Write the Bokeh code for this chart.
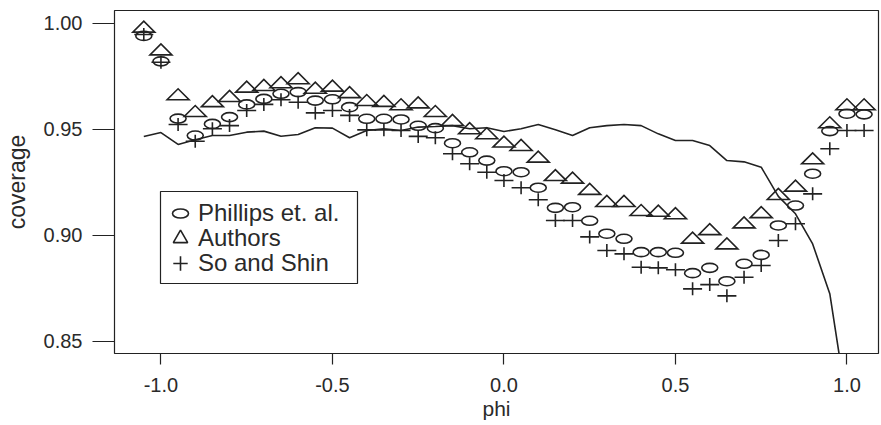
import math
from bokeh.plotting import figure
from bokeh.models import (Range1d, FixedTicker, Legend, LegendItem,
                          PrintfTickFormatter, BoxAnnotation)
from bokeh.embed import file_html
from bokeh.resources import INLINE

# ---------------- data ----------------
phi = [-1.05, -1.00, -0.95, -0.90, -0.85, -0.80, -0.75, -0.70, -0.65, -0.60,
       -0.55, -0.50, -0.45, -0.40, -0.35, -0.30, -0.25, -0.20, -0.15, -0.10,
       -0.05, 0.00, 0.05, 0.10, 0.15, 0.20, 0.25, 0.30, 0.35, 0.40,
       0.45, 0.50, 0.55, 0.60, 0.65, 0.70, 0.75, 0.80, 0.85, 0.90,
       0.95, 1.00, 1.05]

phillips = [0.994, 0.982, 0.955, 0.947, 0.9525, 0.9557, 0.9617, 0.9643, 0.9667, 0.9675,
            0.9635, 0.9641, 0.9604, 0.9549, 0.9549, 0.9546, 0.9516, 0.9505, 0.9434, 0.9391,
            0.9352, 0.9302, 0.9297, 0.9224, 0.9129, 0.9132, 0.9068, 0.9007, 0.8983, 0.8920,
            0.8920, 0.8917, 0.8821, 0.8846, 0.8783, 0.8865, 0.8907, 0.9046, 0.9140, 0.9290,
            0.9491, 0.9573, 0.9570]

authors = [0.9975, 0.9868, 0.9656, 0.9577, 0.9624, 0.9648, 0.9692, 0.9700, 0.9713, 0.9732,
           0.9687, 0.9697, 0.9666, 0.9629, 0.9625, 0.9609, 0.9618, 0.9577, 0.9535, 0.9496,
           0.9472, 0.9433, 0.9417, 0.9362, 0.9275, 0.9263, 0.9210, 0.9153, 0.9153, 0.9110,
           0.9107, 0.9095, 0.8980, 0.9020, 0.8953, 0.9052, 0.9100, 0.9186, 0.9225, 0.9354,
           0.9524, 0.9609, 0.9609]

so_shin = [0.9947, 0.9816, 0.9522, 0.9443, 0.9502, 0.9517, 0.9588, 0.9617, 0.9639, 0.9627,
           0.9577, 0.9588, 0.9565, 0.9497, 0.9497, 0.9494, 0.9466, 0.9460, 0.9384, 0.9337,
           0.9297, 0.9258, 0.9224, 0.9167, 0.9069, 0.9069, 0.8992, 0.8928, 0.8912, 0.8849,
           0.8846, 0.8837, 0.8747, 0.8767, 0.8714, 0.8802, 0.8857, 0.8975, 0.9054, 0.9195,
           0.9408, 0.9494, 0.9494]

# solid line (no legend entry); ends at phi = 1.00
line_cov = [0.9466, 0.9484, 0.9428, 0.9450, 0.9470, 0.9470, 0.9486, 0.9491, 0.9467, 0.9475,
            0.9507, 0.9505, 0.9460, 0.9494, 0.9502, 0.9494, 0.9510, 0.9513, 0.9517, 0.9502,
            0.9507, 0.9489, 0.9502, 0.9522, 0.9497, 0.9470, 0.9507, 0.9517, 0.9522, 0.9517,
            0.9478, 0.9447, 0.9447, 0.9423, 0.9352, 0.9346, 0.9321, 0.9183, 0.9101, 0.8959,
            0.8724, 0.8200]

series_labels = ["Phillips et. al.", "Authors", "So and Shin"]

x_ticks = [-1.0, -0.5, 0.0, 0.5, 1.0]
x_tick_labels = ["-1.0", "-0.5", "0.0", "0.5", "1.0"]
y_ticks = [0.85, 0.90, 0.95, 1.00]
y_tick_labels = ["0.85", "0.90", "0.95", "1.00"]

# ---------------- layout / style ----------------
W, H = 881, 425
BL, BR, BT, BB = 114, 3, 10, 72
FW, FH = W - BL - BR, H - BT - BB
X0, X1 = -1.1354, 1.0920
Y0, Y1 = 0.8442, 1.00599
PX_X = FW / (X1 - X0)
PX_Y = FH / (Y1 - Y0)

INK = "#222222"
TXT = "#2a2a2a"
LW = 1.6
FONT = "Liberation Sans"

p = figure(width=W, height=H, x_range=Range1d(X0, X1), y_range=Range1d(Y0, Y1),
           output_backend="svg", toolbar_location=None,
           min_border_left=BL, min_border_right=BR, min_border_top=BT, min_border_bottom=BB,
           background_fill_color="white", border_fill_color="white")

p.outline_line_color = INK
p.outline_line_width = 1.2
p.grid.visible = False

p.xaxis.ticker = FixedTicker(ticks=x_ticks)
p.xaxis.formatter = PrintfTickFormatter(format="%.1f")
p.xaxis.major_label_overrides = dict(zip(x_ticks, x_tick_labels))
p.yaxis.ticker = FixedTicker(ticks=y_ticks)
p.yaxis.formatter = PrintfTickFormatter(format="%.2f")
p.yaxis.major_label_overrides = dict(zip(y_ticks, y_tick_labels))

p.xaxis.axis_label = "phi"
p.yaxis.axis_label = "coverage"
for ax in (p.xaxis, p.yaxis):
    ax.axis_line_color = None
    ax.minor_tick_line_color = None
    ax.major_tick_line_color = INK
    ax.major_tick_line_width = 1.2
    ax.major_tick_in = 0
    ax.major_label_text_font = FONT
    ax.major_label_text_font_size = "20px"
    ax.major_label_text_color = TXT
    ax.axis_label_text_font = FONT
    ax.axis_label_text_font_style = "normal"
    ax.axis_label_text_color = TXT
p.yaxis.axis_label_text_font_size = "23px"
p.xaxis.axis_label_text_font_size = "21px"
p.yaxis.major_tick_out = 22
p.yaxis.major_label_standoff = 10
p.yaxis.axis_label_standoff = 11
p.xaxis.major_tick_out = 11
p.xaxis.major_label_standoff = 13
p.xaxis.axis_label_standoff = 2

# solid line
p.line(phi[:len(line_cov)], line_cov, line_color=INK, line_width=LW)

# Phillips et. al. : open ellipses (screen-sized)
r_phil = p.ellipse(phi, phillips, width=16, height=9, width_units="screen", height_units="screen",
                   fill_color=None, line_color=INK, line_width=LW)

# Authors : open flattened triangles (marker size in pixels -> data units)
TRI_W, TRI_H = 22, 11
hw = TRI_W / 2 / PX_X
up = TRI_H * 2 / 3 / PX_Y
dn = TRI_H / 3 / PX_Y
tri_xs = [[x - hw, x + hw, x] for x in phi]
tri_ys = [[y - dn, y - dn, y + up] for y in authors]
p.patches(tri_xs, tri_ys, fill_color=None, line_color=INK, line_width=LW, line_join="miter")

# So and Shin : plus signs (wide horizontal bar, shorter vertical bar)
p.scatter(phi, so_shin, marker="dash", size=19, line_color=INK, line_width=LW)
p.scatter(phi, so_shin, marker="dash", size=13, angle=math.pi / 2,
          line_color=INK, line_width=LW)

# legend proxies for the triangle and plus symbols (not drawn in the plot area)
prox_t = p.scatter(phi, authors, marker="triangle", size=12, fill_color=None,
                   line_color=INK, line_width=LW, visible=False)
prox_p = p.scatter(phi, so_shin, marker="cross", size=12,
                   line_color=INK, line_width=LW, visible=False)

# legend frame
box = BoxAnnotation(left=46, right=243, top=162, bottom=70,
                    left_units="screen", right_units="screen",
                    top_units="screen", bottom_units="screen",
                    fill_color="white", fill_alpha=1.0,
                    line_color=INK, line_width=1.2, line_alpha=1.0)
p.add_layout(box)

common = dict(orientation="vertical", padding=0, margin=0, spacing=0,
              label_text_font=FONT, label_text_font_size="24px", label_text_color=TXT,
              border_line_color=None, background_fill_alpha=0.0, click_policy="none")

leg1 = Legend(items=[LegendItem(label=series_labels[0], renderers=[r_phil])],
              location=(56, 126), glyph_width=20, glyph_height=28, label_height=28,
              label_standoff=8, **common)
leg2 = Legend(items=[LegendItem(label=series_labels[1], renderers=[prox_t])],
              location=(48, 96), glyph_width=36, glyph_height=38, label_height=38,
              label_standoff=0, **common)
leg3 = Legend(items=[LegendItem(label=series_labels[2], renderers=[prox_p])],
              location=(48, 71), glyph_width=36, glyph_height=38, label_height=38,
              label_standoff=0, **common)
p.add_layout(leg1)
p.add_layout(leg2)
p.add_layout(leg3)

open("out.html", "w").write(file_html(p, INLINE))
